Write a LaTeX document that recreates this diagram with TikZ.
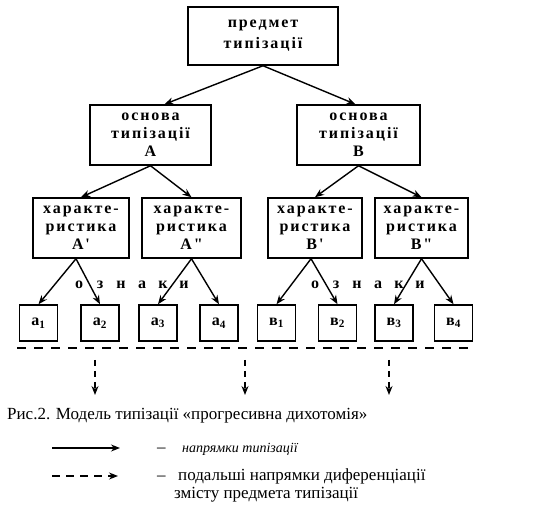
\documentclass[tikz,border=0pt]{standalone}
\usepackage{fontspec}
\setmainfont{Liberation Serif}
\newfontfamily\boxfont[LetterSpace=12]{Liberation Serif}
\usepackage{tikz}
\usetikzlibrary{arrows.meta}

\begin{document}
\begin{tikzpicture}[x=1pt,y=-1pt,>={Stealth[length=9pt,width=7pt]},
	box/.style={draw,line width=1.5pt,align=center,inner sep=0pt,minimum height=60pt,
		font=\fontsize{16}{18}\selectfont\boxfont\bfseries},
	leaf/.style={draw,line width=1.5pt,inner sep=0pt,minimum width=38pt,minimum height=36pt,
		font=\fontsize{16}{18}\selectfont\bfseries},
	sign/.style={font=\fontsize{16}{18}\selectfont\boxfont\bfseries},
	arr/.style={->,line width=1.4pt},
	darr/.style={->,line width=1.4pt,dash pattern=on 6pt off 5pt},
	txt/.style={anchor=base west,inner sep=0pt,font=\fontsize{17}{18}\selectfont}]
	\useasboundingbox (0,0) rectangle (538,510);
	\node[box,minimum width=150pt,minimum height=58pt,font=\fontsize{16}{21}\selectfont\boxfont\bfseries] (subj) at (263,36) {предмет\\типізації};
	\node[box,minimum width=121pt] (baseA) at (150.5,135) {основа\\типізації\\А};
	\node[box,minimum width=123pt] (baseB) at (358.5,135) {основа\\типізації\\В};
	\node[box,minimum width=96pt] (charA1) at (81,228) {характе-\\ристика\\А'};
	\node[box,minimum width=99pt] (charA2) at (191.5,228) {характе-\\ристика\\А"};
	\node[box,minimum width=94pt] (charB1) at (315,228) {характе-\\ристика\\В'};
	\node[box,minimum width=93pt] (charB2) at (421.5,228) {характе-\\ристика\\В"};
	\foreach \n/\x/\t in {a1/38.5/{а\textsubscript{1}},a2/100/{а\textsubscript{2}},
		a3/158/{а\textsubscript{3}},a4/219/{а\textsubscript{4}},
		b1/276.5/{в\textsubscript{1}},b2/337.5/{в\textsubscript{2}},
		b3/394/{в\textsubscript{3}},b4/453.5/{в\textsubscript{4}}}
	\node[leaf] (\n) at (\x,323) {\t};
	\foreach \ch [count=\i from 0] in {о,з,н,а,к,и}
	{
		\node[sign] (signA\i) at (79+21*\i,285) {\ch};
		\node[sign] (signB\i) at (315+21*\i,285) {\ch};
	}
	\draw[arr] (subj.south) -- ([xshift=14pt]baseA.north);
	\draw[arr] (subj.south) -- ([xshift=-3pt]baseB.north);
	\draw[arr] (baseA.south) -- (charA1.north);
	\draw[arr] (baseA.south) -- (charA2.north);
	\draw[arr] (baseB.south) -- (charB1.north);
	\draw[arr] (baseB.south) -- (charB2.north);
	\draw[arr] ([xshift=-5pt]charA1.south) -- (a1.north);
	\draw[arr] ([xshift=-5pt]charA1.south) -- (a2.north);
	\draw[arr] (charA2.south) -- (a3.north);
	\draw[arr] (charA2.south) -- (a4.north);
	\draw[arr] ([xshift=-4pt]charB1.south) -- (b1.north);
	\draw[arr] ([xshift=-4pt]charB1.south) -- (b2.north);
	\draw[arr] (charB2.south) -- (b3.north);
	\draw[arr] (charB2.south) -- (b4.north);
	\draw[line width=1.5pt,dash pattern=on 9pt off 8pt] (17,348) -- (468,348);
	\foreach \x [count=\i] in {95,245,389}
	{
		\coordinate (next\i) at (\x,360);
		\draw[darr] (next\i) -- ++(0,35);
	}
	\node[txt] (caption) at (7,419) {Рис.2. Модель типізації «прогресивна дихотомія»};
	\coordinate (solidkey) at (52,448);
	\coordinate (dashkey) at (52,476);
	\draw[arr] (solidkey) -- ++(68,0);
	\draw[darr,dash pattern=on 8pt off 6pt] (dashkey) -- ++(66,0);
	\node[txt] (dashA) at (157,452) {–};
	\node[txt,font=\fontsize{14}{18}\selectfont\itshape] (keyA) at (182,452) {напрямки типізації};
	\node[txt] (dashB) at (157,480) {–};
	\node[txt] (keyB) at (178,480) {подальші напрямки диференціації};
	\node[txt] (keyC) at (174,498) {змісту предмета типізації};
\end{tikzpicture}
\end{document}
